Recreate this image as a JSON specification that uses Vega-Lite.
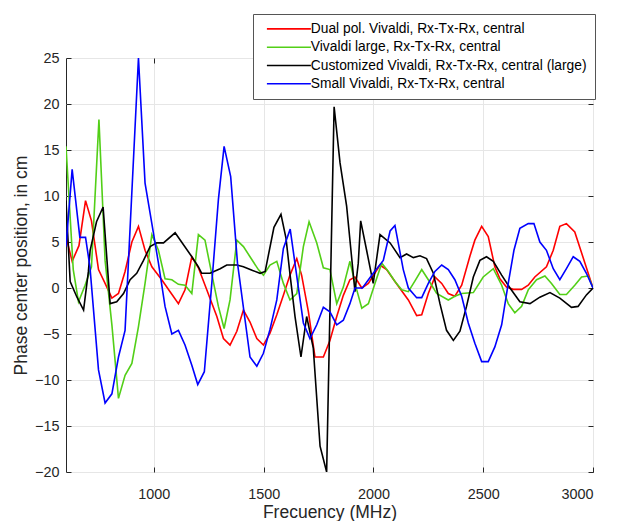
{
  "$schema": "https://vega.github.io/schema/vega-lite/v6.json",
  "autosize": "none",
  "padding": {"left": 66, "top": 58, "right": 31, "bottom": 49},
  "width": 527,
  "height": 414,
  "background": "white",
  "config": {
    "view": {"stroke": "#262626", "strokeWidth": 1},
    "font": "Liberation Sans",
    "axis": {
      "labelFont": "Liberation Sans", "titleFont": "Liberation Sans",
      "labelFontSize": 14.4, "titleFontSize": 17.5, "titleFontWeight": "normal",
      "labelColor": "#262626", "titleColor": "#262626",
      "domainColor": "#262626", "tickColor": "#262626",
      "gridColor": "#e6e6e6", "gridWidth": 1
    }
  },
  "resolve": {"axis": {"x": "independent", "y": "independent"}},
  "data": {"values": [
    {"s":"Dual pol. Vivaldi, Rx-Tx-Rx, central","f":600,"v":5.6},{"s":"Dual pol. Vivaldi, Rx-Tx-Rx, central","f":628,"v":2.9},{"s":"Dual pol. Vivaldi, Rx-Tx-Rx, central","f":659,"v":4.6},{"s":"Dual pol. Vivaldi, Rx-Tx-Rx, central","f":689,"v":9.5},{"s":"Dual pol. Vivaldi, Rx-Tx-Rx, central","f":716,"v":7.3},{"s":"Dual pol. Vivaldi, Rx-Tx-Rx, central","f":748,"v":2.0},{"s":"Dual pol. Vivaldi, Rx-Tx-Rx, central","f":778,"v":0.5},{"s":"Dual pol. Vivaldi, Rx-Tx-Rx, central","f":809,"v":-1.1},{"s":"Dual pol. Vivaldi, Rx-Tx-Rx, central","f":839,"v":-0.6},{"s":"Dual pol. Vivaldi, Rx-Tx-Rx, central","f":869,"v":1.8},{"s":"Dual pol. Vivaldi, Rx-Tx-Rx, central","f":900,"v":5.0},{"s":"Dual pol. Vivaldi, Rx-Tx-Rx, central","f":930,"v":6.7},{"s":"Dual pol. Vivaldi, Rx-Tx-Rx, central","f":960,"v":4.1},{"s":"Dual pol. Vivaldi, Rx-Tx-Rx, central","f":991,"v":2.3},{"s":"Dual pol. Vivaldi, Rx-Tx-Rx, central","f":1036,"v":0.9},{"s":"Dual pol. Vivaldi, Rx-Tx-Rx, central","f":1074,"v":-0.4},{"s":"Dual pol. Vivaldi, Rx-Tx-Rx, central","f":1112,"v":-1.7},{"s":"Dual pol. Vivaldi, Rx-Tx-Rx, central","f":1142,"v":-0.2},{"s":"Dual pol. Vivaldi, Rx-Tx-Rx, central","f":1173,"v":3.4},{"s":"Dual pol. Vivaldi, Rx-Tx-Rx, central","f":1203,"v":2.2},{"s":"Dual pol. Vivaldi, Rx-Tx-Rx, central","f":1241,"v":-0.2},{"s":"Dual pol. Vivaldi, Rx-Tx-Rx, central","f":1287,"v":-3.1},{"s":"Dual pol. Vivaldi, Rx-Tx-Rx, central","f":1317,"v":-5.5},{"s":"Dual pol. Vivaldi, Rx-Tx-Rx, central","f":1347,"v":-6.2},{"s":"Dual pol. Vivaldi, Rx-Tx-Rx, central","f":1378,"v":-4.7},{"s":"Dual pol. Vivaldi, Rx-Tx-Rx, central","f":1408,"v":-2.4},{"s":"Dual pol. Vivaldi, Rx-Tx-Rx, central","f":1438,"v":-3.7},{"s":"Dual pol. Vivaldi, Rx-Tx-Rx, central","f":1469,"v":-5.5},{"s":"Dual pol. Vivaldi, Rx-Tx-Rx, central","f":1499,"v":-6.2},{"s":"Dual pol. Vivaldi, Rx-Tx-Rx, central","f":1529,"v":-4.9},{"s":"Dual pol. Vivaldi, Rx-Tx-Rx, central","f":1560,"v":-2.9},{"s":"Dual pol. Vivaldi, Rx-Tx-Rx, central","f":1590,"v":-0.8},{"s":"Dual pol. Vivaldi, Rx-Tx-Rx, central","f":1620,"v":1.4},{"s":"Dual pol. Vivaldi, Rx-Tx-Rx, central","f":1651,"v":3.2},{"s":"Dual pol. Vivaldi, Rx-Tx-Rx, central","f":1673,"v":1.4},{"s":"Dual pol. Vivaldi, Rx-Tx-Rx, central","f":1704,"v":-2.6},{"s":"Dual pol. Vivaldi, Rx-Tx-Rx, central","f":1734,"v":-7.5},{"s":"Dual pol. Vivaldi, Rx-Tx-Rx, central","f":1772,"v":-7.5},{"s":"Dual pol. Vivaldi, Rx-Tx-Rx, central","f":1802,"v":-5.7},{"s":"Dual pol. Vivaldi, Rx-Tx-Rx, central","f":1833,"v":-3.1},{"s":"Dual pol. Vivaldi, Rx-Tx-Rx, central","f":1863,"v":-0.8},{"s":"Dual pol. Vivaldi, Rx-Tx-Rx, central","f":1893,"v":0.9},{"s":"Dual pol. Vivaldi, Rx-Tx-Rx, central","f":1916,"v":1.2},{"s":"Dual pol. Vivaldi, Rx-Tx-Rx, central","f":1947,"v":0},{"s":"Dual pol. Vivaldi, Rx-Tx-Rx, central","f":1977,"v":0.5},{"s":"Dual pol. Vivaldi, Rx-Tx-Rx, central","f":2030,"v":2.5},{"s":"Dual pol. Vivaldi, Rx-Tx-Rx, central","f":2060,"v":2.0},{"s":"Dual pol. Vivaldi, Rx-Tx-Rx, central","f":2098,"v":0.7},{"s":"Dual pol. Vivaldi, Rx-Tx-Rx, central","f":2159,"v":-1.3},{"s":"Dual pol. Vivaldi, Rx-Tx-Rx, central","f":2197,"v":-3.0},{"s":"Dual pol. Vivaldi, Rx-Tx-Rx, central","f":2220,"v":-2.9},{"s":"Dual pol. Vivaldi, Rx-Tx-Rx, central","f":2250,"v":-0.6},{"s":"Dual pol. Vivaldi, Rx-Tx-Rx, central","f":2280,"v":1.2},{"s":"Dual pol. Vivaldi, Rx-Tx-Rx, central","f":2311,"v":0.5},{"s":"Dual pol. Vivaldi, Rx-Tx-Rx, central","f":2341,"v":-0.6},{"s":"Dual pol. Vivaldi, Rx-Tx-Rx, central","f":2371,"v":-0.9},{"s":"Dual pol. Vivaldi, Rx-Tx-Rx, central","f":2402,"v":0.3},{"s":"Dual pol. Vivaldi, Rx-Tx-Rx, central","f":2440,"v":3.5},{"s":"Dual pol. Vivaldi, Rx-Tx-Rx, central","f":2462,"v":5.2},{"s":"Dual pol. Vivaldi, Rx-Tx-Rx, central","f":2493,"v":6.7},{"s":"Dual pol. Vivaldi, Rx-Tx-Rx, central","f":2523,"v":5.6},{"s":"Dual pol. Vivaldi, Rx-Tx-Rx, central","f":2553,"v":2.3},{"s":"Dual pol. Vivaldi, Rx-Tx-Rx, central","f":2576,"v":1.0},{"s":"Dual pol. Vivaldi, Rx-Tx-Rx, central","f":2606,"v":0.1},{"s":"Dual pol. Vivaldi, Rx-Tx-Rx, central","f":2637,"v":-0.15},{"s":"Dual pol. Vivaldi, Rx-Tx-Rx, central","f":2675,"v":-0.15},{"s":"Dual pol. Vivaldi, Rx-Tx-Rx, central","f":2705,"v":0.3},{"s":"Dual pol. Vivaldi, Rx-Tx-Rx, central","f":2735,"v":1.2},{"s":"Dual pol. Vivaldi, Rx-Tx-Rx, central","f":2788,"v":2.3},{"s":"Dual pol. Vivaldi, Rx-Tx-Rx, central","f":2819,"v":4.1},{"s":"Dual pol. Vivaldi, Rx-Tx-Rx, central","f":2849,"v":6.7},{"s":"Dual pol. Vivaldi, Rx-Tx-Rx, central","f":2879,"v":7.0},{"s":"Dual pol. Vivaldi, Rx-Tx-Rx, central","f":2917,"v":6.1},{"s":"Dual pol. Vivaldi, Rx-Tx-Rx, central","f":3000,"v":0},
    {"s":"Vivaldi large, Rx-Tx-Rx, central","f":600,"v":15.4},{"s":"Vivaldi large, Rx-Tx-Rx, central","f":633,"v":2.0},{"s":"Vivaldi large, Rx-Tx-Rx, central","f":657,"v":-1.5},{"s":"Vivaldi large, Rx-Tx-Rx, central","f":687,"v":0.3},{"s":"Vivaldi large, Rx-Tx-Rx, central","f":716,"v":2.3},{"s":"Vivaldi large, Rx-Tx-Rx, central","f":750,"v":18.3},{"s":"Vivaldi large, Rx-Tx-Rx, central","f":778,"v":3.0},{"s":"Vivaldi large, Rx-Tx-Rx, central","f":809,"v":-4.0},{"s":"Vivaldi large, Rx-Tx-Rx, central","f":839,"v":-12.0},{"s":"Vivaldi large, Rx-Tx-Rx, central","f":869,"v":-9.5},{"s":"Vivaldi large, Rx-Tx-Rx, central","f":900,"v":-8.2},{"s":"Vivaldi large, Rx-Tx-Rx, central","f":930,"v":-4.2},{"s":"Vivaldi large, Rx-Tx-Rx, central","f":960,"v":0.5},{"s":"Vivaldi large, Rx-Tx-Rx, central","f":991,"v":5.8},{"s":"Vivaldi large, Rx-Tx-Rx, central","f":1021,"v":4.1},{"s":"Vivaldi large, Rx-Tx-Rx, central","f":1051,"v":1.0},{"s":"Vivaldi large, Rx-Tx-Rx, central","f":1082,"v":0.9},{"s":"Vivaldi large, Rx-Tx-Rx, central","f":1112,"v":0.4},{"s":"Vivaldi large, Rx-Tx-Rx, central","f":1142,"v":0.3},{"s":"Vivaldi large, Rx-Tx-Rx, central","f":1173,"v":-0.6},{"s":"Vivaldi large, Rx-Tx-Rx, central","f":1203,"v":5.8},{"s":"Vivaldi large, Rx-Tx-Rx, central","f":1233,"v":5.2},{"s":"Vivaldi large, Rx-Tx-Rx, central","f":1264,"v":1.5},{"s":"Vivaldi large, Rx-Tx-Rx, central","f":1294,"v":-2.0},{"s":"Vivaldi large, Rx-Tx-Rx, central","f":1320,"v":-4.4},{"s":"Vivaldi large, Rx-Tx-Rx, central","f":1347,"v":-1.3},{"s":"Vivaldi large, Rx-Tx-Rx, central","f":1378,"v":5.2},{"s":"Vivaldi large, Rx-Tx-Rx, central","f":1408,"v":4.5},{"s":"Vivaldi large, Rx-Tx-Rx, central","f":1438,"v":3.4},{"s":"Vivaldi large, Rx-Tx-Rx, central","f":1476,"v":2.0},{"s":"Vivaldi large, Rx-Tx-Rx, central","f":1499,"v":1.4},{"s":"Vivaldi large, Rx-Tx-Rx, central","f":1529,"v":2.5},{"s":"Vivaldi large, Rx-Tx-Rx, central","f":1560,"v":2.9},{"s":"Vivaldi large, Rx-Tx-Rx, central","f":1590,"v":0.5},{"s":"Vivaldi large, Rx-Tx-Rx, central","f":1620,"v":-1.3},{"s":"Vivaldi large, Rx-Tx-Rx, central","f":1651,"v":-0.6},{"s":"Vivaldi large, Rx-Tx-Rx, central","f":1681,"v":4.5},{"s":"Vivaldi large, Rx-Tx-Rx, central","f":1707,"v":7.2},{"s":"Vivaldi large, Rx-Tx-Rx, central","f":1742,"v":4.9},{"s":"Vivaldi large, Rx-Tx-Rx, central","f":1772,"v":2.2},{"s":"Vivaldi large, Rx-Tx-Rx, central","f":1802,"v":2.0},{"s":"Vivaldi large, Rx-Tx-Rx, central","f":1833,"v":-1.7},{"s":"Vivaldi large, Rx-Tx-Rx, central","f":1863,"v":0.1},{"s":"Vivaldi large, Rx-Tx-Rx, central","f":1893,"v":2.9},{"s":"Vivaldi large, Rx-Tx-Rx, central","f":1916,"v":0.5},{"s":"Vivaldi large, Rx-Tx-Rx, central","f":1947,"v":-2.2},{"s":"Vivaldi large, Rx-Tx-Rx, central","f":1977,"v":-1.7},{"s":"Vivaldi large, Rx-Tx-Rx, central","f":2007,"v":0.5},{"s":"Vivaldi large, Rx-Tx-Rx, central","f":2038,"v":2.7},{"s":"Vivaldi large, Rx-Tx-Rx, central","f":2068,"v":1.8},{"s":"Vivaldi large, Rx-Tx-Rx, central","f":2098,"v":0.7},{"s":"Vivaldi large, Rx-Tx-Rx, central","f":2129,"v":-0.2},{"s":"Vivaldi large, Rx-Tx-Rx, central","f":2159,"v":-0.4},{"s":"Vivaldi large, Rx-Tx-Rx, central","f":2190,"v":0.8},{"s":"Vivaldi large, Rx-Tx-Rx, central","f":2220,"v":2.0},{"s":"Vivaldi large, Rx-Tx-Rx, central","f":2250,"v":0.9},{"s":"Vivaldi large, Rx-Tx-Rx, central","f":2288,"v":-0.6},{"s":"Vivaldi large, Rx-Tx-Rx, central","f":2341,"v":-1.3},{"s":"Vivaldi large, Rx-Tx-Rx, central","f":2371,"v":-0.9},{"s":"Vivaldi large, Rx-Tx-Rx, central","f":2402,"v":-0.6},{"s":"Vivaldi large, Rx-Tx-Rx, central","f":2455,"v":-0.5},{"s":"Vivaldi large, Rx-Tx-Rx, central","f":2500,"v":1.2},{"s":"Vivaldi large, Rx-Tx-Rx, central","f":2546,"v":2.1},{"s":"Vivaldi large, Rx-Tx-Rx, central","f":2584,"v":0.3},{"s":"Vivaldi large, Rx-Tx-Rx, central","f":2614,"v":-1.7},{"s":"Vivaldi large, Rx-Tx-Rx, central","f":2644,"v":-2.7},{"s":"Vivaldi large, Rx-Tx-Rx, central","f":2675,"v":-2.0},{"s":"Vivaldi large, Rx-Tx-Rx, central","f":2705,"v":-0.2},{"s":"Vivaldi large, Rx-Tx-Rx, central","f":2743,"v":0.9},{"s":"Vivaldi large, Rx-Tx-Rx, central","f":2781,"v":1.3},{"s":"Vivaldi large, Rx-Tx-Rx, central","f":2811,"v":0.5},{"s":"Vivaldi large, Rx-Tx-Rx, central","f":2849,"v":-0.7},{"s":"Vivaldi large, Rx-Tx-Rx, central","f":2879,"v":-0.7},{"s":"Vivaldi large, Rx-Tx-Rx, central","f":2917,"v":0.3},{"s":"Vivaldi large, Rx-Tx-Rx, central","f":2948,"v":1.2},{"s":"Vivaldi large, Rx-Tx-Rx, central","f":2978,"v":1.3},{"s":"Vivaldi large, Rx-Tx-Rx, central","f":3000,"v":0},
    {"s":"Customized Vivaldi, Rx-Tx-Rx, central (large)","f":600,"v":9.5},{"s":"Customized Vivaldi, Rx-Tx-Rx, central (large)","f":619,"v":0.7},{"s":"Customized Vivaldi, Rx-Tx-Rx, central (large)","f":650,"v":-1.0},{"s":"Customized Vivaldi, Rx-Tx-Rx, central (large)","f":680,"v":-2.4},{"s":"Customized Vivaldi, Rx-Tx-Rx, central (large)","f":702,"v":1.8},{"s":"Customized Vivaldi, Rx-Tx-Rx, central (large)","f":710,"v":4.1},{"s":"Customized Vivaldi, Rx-Tx-Rx, central (large)","f":739,"v":7.2},{"s":"Customized Vivaldi, Rx-Tx-Rx, central (large)","f":769,"v":8.8},{"s":"Customized Vivaldi, Rx-Tx-Rx, central (large)","f":801,"v":-1.7},{"s":"Customized Vivaldi, Rx-Tx-Rx, central (large)","f":831,"v":-1.5},{"s":"Customized Vivaldi, Rx-Tx-Rx, central (large)","f":862,"v":-0.6},{"s":"Customized Vivaldi, Rx-Tx-Rx, central (large)","f":892,"v":0.9},{"s":"Customized Vivaldi, Rx-Tx-Rx, central (large)","f":922,"v":1.6},{"s":"Customized Vivaldi, Rx-Tx-Rx, central (large)","f":953,"v":3.0},{"s":"Customized Vivaldi, Rx-Tx-Rx, central (large)","f":983,"v":4.5},{"s":"Customized Vivaldi, Rx-Tx-Rx, central (large)","f":1013,"v":4.9},{"s":"Customized Vivaldi, Rx-Tx-Rx, central (large)","f":1044,"v":4.9},{"s":"Customized Vivaldi, Rx-Tx-Rx, central (large)","f":1097,"v":6.0},{"s":"Customized Vivaldi, Rx-Tx-Rx, central (large)","f":1173,"v":3.4},{"s":"Customized Vivaldi, Rx-Tx-Rx, central (large)","f":1203,"v":2.3},{"s":"Customized Vivaldi, Rx-Tx-Rx, central (large)","f":1218,"v":1.6},{"s":"Customized Vivaldi, Rx-Tx-Rx, central (large)","f":1256,"v":1.6},{"s":"Customized Vivaldi, Rx-Tx-Rx, central (large)","f":1302,"v":2.1},{"s":"Customized Vivaldi, Rx-Tx-Rx, central (large)","f":1332,"v":2.5},{"s":"Customized Vivaldi, Rx-Tx-Rx, central (large)","f":1378,"v":2.5},{"s":"Customized Vivaldi, Rx-Tx-Rx, central (large)","f":1408,"v":2.3},{"s":"Customized Vivaldi, Rx-Tx-Rx, central (large)","f":1450,"v":1.9},{"s":"Customized Vivaldi, Rx-Tx-Rx, central (large)","f":1484,"v":1.6},{"s":"Customized Vivaldi, Rx-Tx-Rx, central (large)","f":1507,"v":1.8},{"s":"Customized Vivaldi, Rx-Tx-Rx, central (large)","f":1547,"v":6.6},{"s":"Customized Vivaldi, Rx-Tx-Rx, central (large)","f":1579,"v":8.0},{"s":"Customized Vivaldi, Rx-Tx-Rx, central (large)","f":1602,"v":5.4},{"s":"Customized Vivaldi, Rx-Tx-Rx, central (large)","f":1620,"v":1.5},{"s":"Customized Vivaldi, Rx-Tx-Rx, central (large)","f":1643,"v":-3.1},{"s":"Customized Vivaldi, Rx-Tx-Rx, central (large)","f":1670,"v":-7.5},{"s":"Customized Vivaldi, Rx-Tx-Rx, central (large)","f":1696,"v":-3.1},{"s":"Customized Vivaldi, Rx-Tx-Rx, central (large)","f":1726,"v":-6.5},{"s":"Customized Vivaldi, Rx-Tx-Rx, central (large)","f":1757,"v":-17.2},{"s":"Customized Vivaldi, Rx-Tx-Rx, central (large)","f":1787,"v":-20},{"s":"Customized Vivaldi, Rx-Tx-Rx, central (large)","f":1821,"v":19.7},{"s":"Customized Vivaldi, Rx-Tx-Rx, central (large)","f":1848,"v":13.6},{"s":"Customized Vivaldi, Rx-Tx-Rx, central (large)","f":1878,"v":8.9},{"s":"Customized Vivaldi, Rx-Tx-Rx, central (large)","f":1916,"v":-0.4},{"s":"Customized Vivaldi, Rx-Tx-Rx, central (large)","f":1931,"v":2.7},{"s":"Customized Vivaldi, Rx-Tx-Rx, central (large)","f":1942,"v":7.3},{"s":"Customized Vivaldi, Rx-Tx-Rx, central (large)","f":1969,"v":4.1},{"s":"Customized Vivaldi, Rx-Tx-Rx, central (large)","f":1999,"v":0.5},{"s":"Customized Vivaldi, Rx-Tx-Rx, central (large)","f":2030,"v":5.8},{"s":"Customized Vivaldi, Rx-Tx-Rx, central (large)","f":2076,"v":4.9},{"s":"Customized Vivaldi, Rx-Tx-Rx, central (large)","f":2121,"v":3.3},{"s":"Customized Vivaldi, Rx-Tx-Rx, central (large)","f":2151,"v":3.7},{"s":"Customized Vivaldi, Rx-Tx-Rx, central (large)","f":2182,"v":3.3},{"s":"Customized Vivaldi, Rx-Tx-Rx, central (large)","f":2212,"v":3.5},{"s":"Customized Vivaldi, Rx-Tx-Rx, central (large)","f":2242,"v":3.2},{"s":"Customized Vivaldi, Rx-Tx-Rx, central (large)","f":2273,"v":1.6},{"s":"Customized Vivaldi, Rx-Tx-Rx, central (large)","f":2303,"v":-1.7},{"s":"Customized Vivaldi, Rx-Tx-Rx, central (large)","f":2333,"v":-4.6},{"s":"Customized Vivaldi, Rx-Tx-Rx, central (large)","f":2364,"v":-5.7},{"s":"Customized Vivaldi, Rx-Tx-Rx, central (large)","f":2394,"v":-4.7},{"s":"Customized Vivaldi, Rx-Tx-Rx, central (large)","f":2424,"v":-2.0},{"s":"Customized Vivaldi, Rx-Tx-Rx, central (large)","f":2455,"v":1.2},{"s":"Customized Vivaldi, Rx-Tx-Rx, central (large)","f":2485,"v":3.0},{"s":"Customized Vivaldi, Rx-Tx-Rx, central (large)","f":2515,"v":3.4},{"s":"Customized Vivaldi, Rx-Tx-Rx, central (large)","f":2546,"v":2.9},{"s":"Customized Vivaldi, Rx-Tx-Rx, central (large)","f":2584,"v":1.4},{"s":"Customized Vivaldi, Rx-Tx-Rx, central (large)","f":2622,"v":0},{"s":"Customized Vivaldi, Rx-Tx-Rx, central (large)","f":2667,"v":-1.5},{"s":"Customized Vivaldi, Rx-Tx-Rx, central (large)","f":2713,"v":-1.7},{"s":"Customized Vivaldi, Rx-Tx-Rx, central (large)","f":2758,"v":-1.0},{"s":"Customized Vivaldi, Rx-Tx-Rx, central (large)","f":2804,"v":-0.5},{"s":"Customized Vivaldi, Rx-Tx-Rx, central (large)","f":2849,"v":-1.1},{"s":"Customized Vivaldi, Rx-Tx-Rx, central (large)","f":2902,"v":-2.1},{"s":"Customized Vivaldi, Rx-Tx-Rx, central (large)","f":2932,"v":-2.0},{"s":"Customized Vivaldi, Rx-Tx-Rx, central (large)","f":2970,"v":-0.75},{"s":"Customized Vivaldi, Rx-Tx-Rx, central (large)","f":3000,"v":0},
    {"s":"Small Vivaldi, Rx-Tx-Rx, central","f":600,"v":4.5},{"s":"Small Vivaldi, Rx-Tx-Rx, central","f":628,"v":12.9},{"s":"Small Vivaldi, Rx-Tx-Rx, central","f":663,"v":5.5},{"s":"Small Vivaldi, Rx-Tx-Rx, central","f":689,"v":5.5},{"s":"Small Vivaldi, Rx-Tx-Rx, central","f":709,"v":2.3},{"s":"Small Vivaldi, Rx-Tx-Rx, central","f":748,"v":-8.9},{"s":"Small Vivaldi, Rx-Tx-Rx, central","f":778,"v":-12.5},{"s":"Small Vivaldi, Rx-Tx-Rx, central","f":809,"v":-11.5},{"s":"Small Vivaldi, Rx-Tx-Rx, central","f":839,"v":-7.5},{"s":"Small Vivaldi, Rx-Tx-Rx, central","f":869,"v":-4.6},{"s":"Small Vivaldi, Rx-Tx-Rx, central","f":930,"v":25},{"s":"Small Vivaldi, Rx-Tx-Rx, central","f":960,"v":11.4},{"s":"Small Vivaldi, Rx-Tx-Rx, central","f":991,"v":7.0},{"s":"Small Vivaldi, Rx-Tx-Rx, central","f":1021,"v":2.7},{"s":"Small Vivaldi, Rx-Tx-Rx, central","f":1051,"v":-2.0},{"s":"Small Vivaldi, Rx-Tx-Rx, central","f":1082,"v":-5.0},{"s":"Small Vivaldi, Rx-Tx-Rx, central","f":1112,"v":-4.6},{"s":"Small Vivaldi, Rx-Tx-Rx, central","f":1142,"v":-6.2},{"s":"Small Vivaldi, Rx-Tx-Rx, central","f":1173,"v":-8.4},{"s":"Small Vivaldi, Rx-Tx-Rx, central","f":1200,"v":-10.5},{"s":"Small Vivaldi, Rx-Tx-Rx, central","f":1230,"v":-9.1},{"s":"Small Vivaldi, Rx-Tx-Rx, central","f":1264,"v":0.5},{"s":"Small Vivaldi, Rx-Tx-Rx, central","f":1294,"v":9.6},{"s":"Small Vivaldi, Rx-Tx-Rx, central","f":1320,"v":15.4},{"s":"Small Vivaldi, Rx-Tx-Rx, central","f":1350,"v":12.1},{"s":"Small Vivaldi, Rx-Tx-Rx, central","f":1381,"v":2.7},{"s":"Small Vivaldi, Rx-Tx-Rx, central","f":1438,"v":-7.5},{"s":"Small Vivaldi, Rx-Tx-Rx, central","f":1469,"v":-8.5},{"s":"Small Vivaldi, Rx-Tx-Rx, central","f":1499,"v":-7.1},{"s":"Small Vivaldi, Rx-Tx-Rx, central","f":1529,"v":-4.5},{"s":"Small Vivaldi, Rx-Tx-Rx, central","f":1560,"v":-1.3},{"s":"Small Vivaldi, Rx-Tx-Rx, central","f":1590,"v":4.3},{"s":"Small Vivaldi, Rx-Tx-Rx, central","f":1621,"v":6.4},{"s":"Small Vivaldi, Rx-Tx-Rx, central","f":1645,"v":2.3},{"s":"Small Vivaldi, Rx-Tx-Rx, central","f":1681,"v":-3.8},{"s":"Small Vivaldi, Rx-Tx-Rx, central","f":1711,"v":-5.5},{"s":"Small Vivaldi, Rx-Tx-Rx, central","f":1742,"v":-4.0},{"s":"Small Vivaldi, Rx-Tx-Rx, central","f":1772,"v":-2.1},{"s":"Small Vivaldi, Rx-Tx-Rx, central","f":1802,"v":-2.6},{"s":"Small Vivaldi, Rx-Tx-Rx, central","f":1833,"v":-4.0},{"s":"Small Vivaldi, Rx-Tx-Rx, central","f":1863,"v":-3.5},{"s":"Small Vivaldi, Rx-Tx-Rx, central","f":1893,"v":-1.7},{"s":"Small Vivaldi, Rx-Tx-Rx, central","f":1916,"v":0},{"s":"Small Vivaldi, Rx-Tx-Rx, central","f":1950,"v":0},{"s":"Small Vivaldi, Rx-Tx-Rx, central","f":1999,"v":1.6},{"s":"Small Vivaldi, Rx-Tx-Rx, central","f":2045,"v":3.0},{"s":"Small Vivaldi, Rx-Tx-Rx, central","f":2076,"v":6.2},{"s":"Small Vivaldi, Rx-Tx-Rx, central","f":2098,"v":6.8},{"s":"Small Vivaldi, Rx-Tx-Rx, central","f":2136,"v":2.0},{"s":"Small Vivaldi, Rx-Tx-Rx, central","f":2159,"v":0},{"s":"Small Vivaldi, Rx-Tx-Rx, central","f":2197,"v":-1.05},{"s":"Small Vivaldi, Rx-Tx-Rx, central","f":2220,"v":-1.05},{"s":"Small Vivaldi, Rx-Tx-Rx, central","f":2250,"v":0.5},{"s":"Small Vivaldi, Rx-Tx-Rx, central","f":2280,"v":1.8},{"s":"Small Vivaldi, Rx-Tx-Rx, central","f":2311,"v":2.5},{"s":"Small Vivaldi, Rx-Tx-Rx, central","f":2341,"v":2.0},{"s":"Small Vivaldi, Rx-Tx-Rx, central","f":2371,"v":0.9},{"s":"Small Vivaldi, Rx-Tx-Rx, central","f":2402,"v":-0.9},{"s":"Small Vivaldi, Rx-Tx-Rx, central","f":2432,"v":-3.8},{"s":"Small Vivaldi, Rx-Tx-Rx, central","f":2462,"v":-6.0},{"s":"Small Vivaldi, Rx-Tx-Rx, central","f":2493,"v":-8.0},{"s":"Small Vivaldi, Rx-Tx-Rx, central","f":2523,"v":-8.0},{"s":"Small Vivaldi, Rx-Tx-Rx, central","f":2553,"v":-6.4},{"s":"Small Vivaldi, Rx-Tx-Rx, central","f":2584,"v":-4.0},{"s":"Small Vivaldi, Rx-Tx-Rx, central","f":2614,"v":0.5},{"s":"Small Vivaldi, Rx-Tx-Rx, central","f":2640,"v":4.1},{"s":"Small Vivaldi, Rx-Tx-Rx, central","f":2667,"v":6.5},{"s":"Small Vivaldi, Rx-Tx-Rx, central","f":2705,"v":7.0},{"s":"Small Vivaldi, Rx-Tx-Rx, central","f":2731,"v":7.0},{"s":"Small Vivaldi, Rx-Tx-Rx, central","f":2758,"v":5.0},{"s":"Small Vivaldi, Rx-Tx-Rx, central","f":2788,"v":4.1},{"s":"Small Vivaldi, Rx-Tx-Rx, central","f":2819,"v":2.1},{"s":"Small Vivaldi, Rx-Tx-Rx, central","f":2849,"v":0.9},{"s":"Small Vivaldi, Rx-Tx-Rx, central","f":2879,"v":2.1},{"s":"Small Vivaldi, Rx-Tx-Rx, central","f":2910,"v":3.4},{"s":"Small Vivaldi, Rx-Tx-Rx, central","f":2940,"v":2.9},{"s":"Small Vivaldi, Rx-Tx-Rx, central","f":2970,"v":1.6},{"s":"Small Vivaldi, Rx-Tx-Rx, central","f":3000,"v":0}
  ]},
  "layer": [
    {
      "mark": {"type": "line", "clip": true},
      "encoding": {
        "x": {"field": "f", "type": "quantitative", "scale": {"domain": [600, 3000], "nice": false, "zero": false},
              "axis": {"orient": "bottom", "title": "Frecuency (MHz)", "format": "d", "values": [1000, 1500, 2000, 2500, 3000], "tickSize": -5, "labelPadding": 20, "titlePadding": 3, "domain": false}},
        "y": {"field": "v", "type": "quantitative", "scale": {"domain": [-20, 25], "nice": false, "zero": false},
              "axis": {"orient": "left", "title": "Phase center position, in cm", "format": "d", "values": [-20, -15, -10, -5, 0, 5, 10, 15, 20, 25], "tickSize": -5, "labelPadding": 12, "titlePadding": 4, "domain": false}},
        "color": {"field": "s", "type": "nominal",
                  "scale": {"domain": ["Dual pol. Vivaldi, Rx-Tx-Rx, central", "Vivaldi large, Rx-Tx-Rx, central", "Customized Vivaldi, Rx-Tx-Rx, central (large)", "Small Vivaldi, Rx-Tx-Rx, central"],
                            "range": ["#ff0000", "#52cf17", "#000000", "#0000ff"]},
                  "sort": null,
                  "legend": {"title": null, "orient": "none", "legendX": 187, "legendY": -44,
                             "fillColor": "white", "strokeColor": "#555555", "padding": 8,
                             "symbolType": "M-4.4,0L4.4,0", "symbolSize": 100, "symbolStrokeWidth": 1.5, "symbolOffset": 21,
                             "labelFont": "Liberation Sans", "labelFontSize": 13.8, "labelColor": "#000000", "labelLimit": 0,
                             "rowPadding": 3.3, "labelOffset": 15}},
        "strokeWidth": {"field": "s", "type": "nominal",
                        "scale": {"domain": ["Dual pol. Vivaldi, Rx-Tx-Rx, central", "Vivaldi large, Rx-Tx-Rx, central", "Customized Vivaldi, Rx-Tx-Rx, central (large)", "Small Vivaldi, Rx-Tx-Rx, central"],
                                  "range": [1.6, 1.6, 1, 1.6]}, "legend": null},
        "order": {"field": "f", "type": "quantitative"}
      }
    },
    {
      "mark": {"type": "line", "opacity": 0},
      "encoding": {
        "x": {"field": "f", "type": "quantitative",
              "axis": {"orient": "top", "title": null, "labels": false, "values": [1000, 1500, 2000, 2500, 3000], "tickSize": -5, "grid": false, "domain": false}},
        "y": {"field": "v", "type": "quantitative",
              "axis": {"orient": "right", "title": null, "labels": false, "values": [-20, -15, -10, -5, 0, 5, 10, 15, 20, 25], "tickSize": -5, "grid": false, "domain": false}},
        "detail": {"field": "s"}
      }
    }
  ]
}
